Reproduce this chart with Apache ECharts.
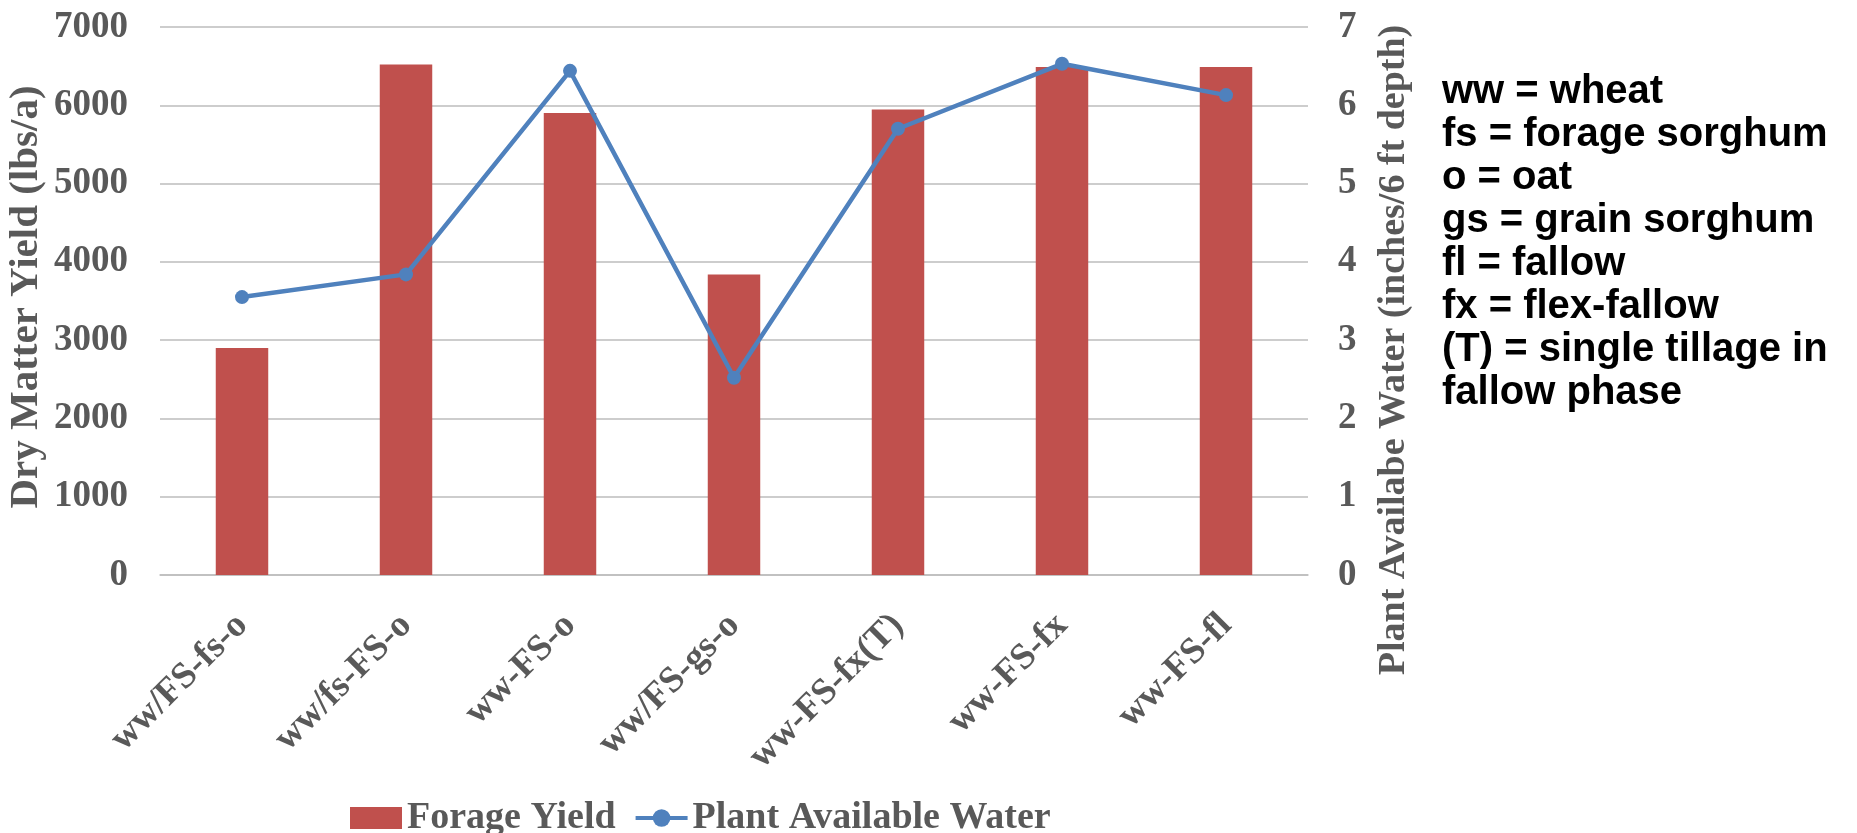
<!DOCTYPE html>
<html>
<head>
<meta charset="utf-8">
<title>Forage Yield and Plant Available Water</title>
<script src="https://cdn.jsdelivr.net/npm/echarts@6/dist/echarts.min.js"></script>
<style>
  html, body { margin: 0; padding: 0; background: #ffffff; }
  #chart { width: 1857px; height: 833px; }
</style>
</head>
<body>
<div id="chart"></div>
<script>
// Crop rotation systems
const categories = ['ww/FS-fs-o', 'ww/fs-FS-o', 'ww-FS-o', 'ww/FS-gs-o', 'ww-FS-fx(T)', 'ww-FS-fx', 'ww-FS-fl'];
// Dry matter forage yield, lbs/a
const forageYield = [2900, 6520, 5900, 3840, 5945, 6490, 6490];
// Plant available water, inches per 6 ft depth
const plantWater = [3.55, 3.84, 6.44, 2.52, 5.70, 6.53, 6.13];
// Abbreviation key shown beside the chart
const keyLines = [
  'ww = wheat',
  'fs = forage sorghum',
  'o = oat',
  'gs = grain sorghum',
  'fl = fallow',
  'fx = flex-fallow',
  '(T) = single tillage in',
  'fallow phase'
];

const serif = '"Liberation Serif", "Times New Roman", serif';
const grey = '#595959';
const gridGrey = '#BDBDBD';
const blue = '#4F81BD';

const chart = echarts.init(document.getElementById('chart'), null, { renderer: 'canvas' });

chart.setOption({
  backgroundColor: '#ffffff',
  animation: false,
  grid: { left: 160, right: 549, top: 27, bottom: 258, containLabel: false },
  legend: {
    left: 345,
    top: 794,
    itemWidth: 52,
    itemHeight: 22,
    itemGap: 18,
    textStyle: { fontFamily: serif, fontWeight: 'bold', fontSize: 38, color: grey },
    data: [
      { name: 'Forage Yield', icon: 'rect' },
      { name: 'Plant Available Water', lineStyle: { width: 4, color: blue } }
    ]
  },
  xAxis: {
    type: 'category',
    data: categories,
    axisLine: { show: true, lineStyle: { color: gridGrey, width: 1.5 } },
    axisTick: { show: false },
    axisLabel: {
      interval: 0,
      rotate: 45,
      margin: 45,
      fontFamily: serif,
      fontWeight: 'bold',
      fontSize: 37,
      color: grey
    }
  },
  yAxis: [
    {
      type: 'value',
      min: 0,
      max: 7000,
      interval: 1000,
      axisLine: { show: false },
      axisTick: { show: false },
      axisLabel: {
        margin: 32,
        formatter: (v) => String(v),
        fontFamily: serif,
        fontWeight: 'bold',
        fontSize: 37,
        color: grey
      },
      splitLine: { show: true, lineStyle: { color: gridGrey, width: 1.5 } }
    },
    {
      type: 'value',
      min: 0,
      max: 7,
      interval: 1,
      position: 'right',
      axisLine: { show: false },
      axisTick: { show: false },
      axisLabel: { margin: 30, fontFamily: serif, fontWeight: 'bold', fontSize: 37, color: grey },
      splitLine: { show: false }
    }
  ],
  series: [
    {
      name: 'Forage Yield',
      type: 'bar',
      yAxisIndex: 0,
      data: forageYield,
      barWidth: '32%',
      itemStyle: { color: '#C0504D' }
    },
    {
      name: 'Plant Available Water',
      type: 'line',
      yAxisIndex: 1,
      data: plantWater,
      symbol: 'circle',
      symbolSize: 14,
      lineStyle: { color: blue, width: 4.5 },
      itemStyle: { color: blue }
    }
  ],
  graphic: [
    {
      type: 'text',
      x: 26,
      y: 297,
      rotation: Math.PI / 2,
      style: {
        text: 'Dry Matter Yield (lbs/a)',
        font: 'bold 41px ' + serif,
        fill: grey,
        align: 'center',
        verticalAlign: 'middle'
      }
    },
    {
      type: 'text',
      x: 1394,
      y: 350,
      rotation: Math.PI / 2,
      style: {
        text: 'Plant Availabe Water (inches/6 ft depth)',
        font: 'bold 38px ' + serif,
        fill: grey,
        align: 'center',
        verticalAlign: 'middle'
      }
    },
    {
      type: 'text',
      x: 1442,
      y: 70,
      style: {
        text: keyLines.join('\n'),
        font: 'bold 40px "Liberation Sans", Arial, sans-serif',
        lineHeight: 43,
        fill: '#000000',
        align: 'left',
        verticalAlign: 'top'
      }
    }
  ]
});
</script>
</body>
</html>
